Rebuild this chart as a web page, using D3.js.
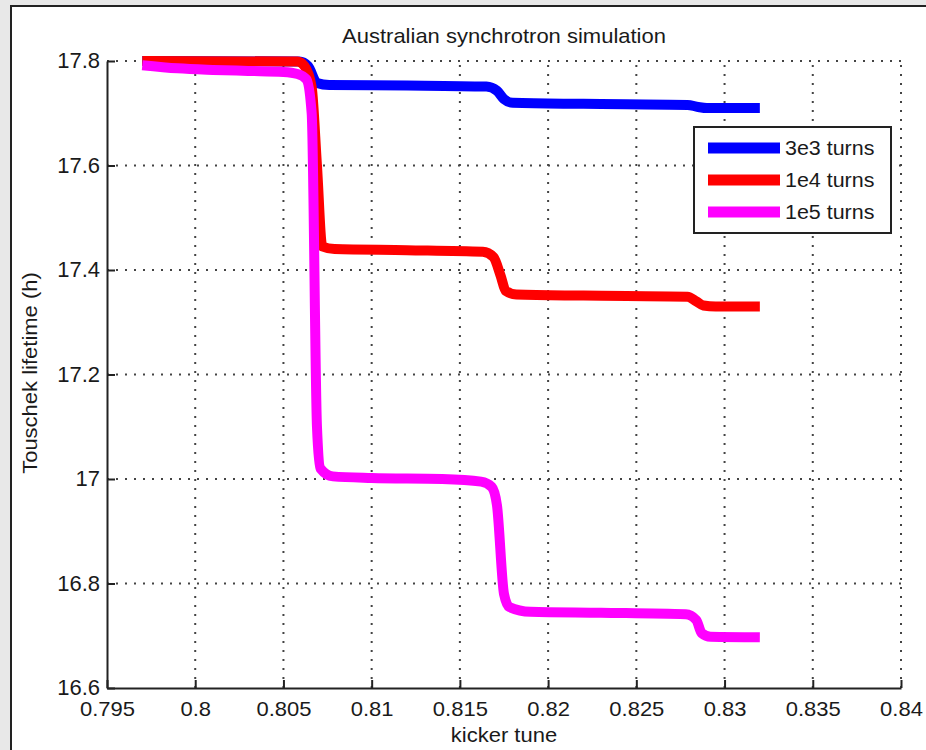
<!DOCTYPE html>
<html>
<head>
<meta charset="utf-8">
<script src="https://cdn.jsdelivr.net/npm/d3@7"></script>
<style>
  body { margin: 0; background: #e8e8e8; }
  text { font-family: "Liberation Sans", Arial, sans-serif; fill: #1a1a1a; }
</style>
</head>
<body>
<div id="chart"></div>
<script>
// values
const xTicks = [0.795, 0.8, 0.805, 0.81, 0.815, 0.82, 0.825, 0.83, 0.835, 0.84];
const yTicks = [16.6, 16.8, 17, 17.2, 17.4, 17.6, 17.8];

const tune3e3 = [0.797, 0.8059, 0.8064, 0.8069, 0.8076, 0.812, 0.8165, 0.8171, 0.8175, 0.818, 0.822, 0.8279, 0.8285, 0.829, 0.832];
const life3e3 = [17.8, 17.799, 17.79, 17.758, 17.754, 17.753, 17.751, 17.743, 17.727, 17.72, 17.718, 17.716, 17.712, 17.71, 17.71];

const tune1e4 = [0.797, 0.8058, 0.8062, 0.8066, 0.8069, 0.8072, 0.8079, 0.812, 0.8163, 0.8169, 0.8173, 0.8176, 0.8182, 0.822, 0.8279, 0.8284, 0.8288, 0.8295, 0.832];
const life1e4 = [17.8, 17.799, 17.79, 17.75, 17.6, 17.445, 17.44, 17.438, 17.435, 17.425, 17.39, 17.36, 17.353, 17.351, 17.349, 17.34, 17.332, 17.33, 17.33];

const tune1e5 = [0.797, 0.799, 0.801, 0.803, 0.805, 0.8058, 0.8063, 0.8066, 0.8069, 0.8071, 0.8078, 0.81, 0.814, 0.8162, 0.8168, 0.8171, 0.8175, 0.8178, 0.819, 0.823, 0.8278, 0.8284, 0.8287, 0.8292, 0.832];
const life1e5 = [17.792, 17.786, 17.783, 17.781, 17.779, 17.775, 17.765, 17.7, 17.1, 17.02, 17.005, 17.002, 17.0, 16.995, 16.985, 16.95, 16.78, 16.755, 16.746, 16.744, 16.741, 16.73, 16.705, 16.698, 16.697];

const seriesNames = ["3e3 turns", "1e4 turns", "1e5 turns"];
const seriesColors = ["#0000ff", "#ff0000", "#ff00ff"];

const series = [
    tune3e3.map((t, i) => [t, life3e3[i]]),
    tune1e4.map((t, i) => [t, life1e4[i]]),
    tune1e5.map((t, i) => [t, life1e5[i]])
];

const W = 926, H = 750;
const plotLeft = 107, plotRight = 901, plotTop = 61, plotBottom = 688;
const stretch = 1.1;

const svg = d3.select("#chart").append("svg")
    .attr("width", W)
    .attr("height", H);

// figure panel
svg.append("rect")
    .attr("x", 11).attr("y", 6)
    .attr("width", W).attr("height", H)
    .attr("fill", "#fff")
    .attr("stroke", "#222")
    .attr("stroke-width", 2);

const x = d3.scaleLinear().domain([0.795, 0.84]).range([plotLeft, plotRight]);
const y = d3.scaleLinear().domain([16.6, 17.8]).range([plotBottom, plotTop]);

// dotted grid
const grid = svg.append("g")
    .attr("stroke", "#444")
    .attr("stroke-width", 2)
    .attr("stroke-dasharray", "2,7");
grid.selectAll(".vg").data(xTicks.slice(1)).join("line")
    .attr("x1", d => x(d)).attr("x2", d => x(d))
    .attr("y1", plotBottom).attr("y2", plotTop);
grid.selectAll(".hg").data(yTicks.slice(1)).join("line")
    .attr("x1", plotLeft).attr("x2", plotRight)
    .attr("y1", d => y(d)).attr("y2", d => y(d));

// lines
const line = d3.line()
    .x(d => x(d[0]))
    .y(d => y(d[1]))
    .curve(d3.curveMonotoneX);

series.forEach((s, i) => {
    svg.append("path")
        .datum(s)
        .attr("d", line)
        .attr("fill", "none")
        .attr("stroke", seriesColors[i])
        .attr("stroke-width", 10)
        .attr("stroke-linejoin", "round");
});

// axes
const xAxis = d3.axisBottom(x).tickValues(xTicks).tickSizeInner(-8).tickSizeOuter(0)
    .tickFormat(d => String(+d.toFixed(3)));
const yAxis = d3.axisLeft(y).tickValues(yTicks).tickSizeInner(-8).tickSizeOuter(0)
    .tickFormat(d => String(+d.toFixed(1)));

const gx = svg.append("g").attr("transform", `translate(0,${plotBottom})`).call(xAxis);
const gy = svg.append("g").attr("transform", `translate(${plotLeft},0)`).call(yAxis);

[gx, gy].forEach(g => {
    g.select(".domain").attr("stroke", "#222").attr("stroke-width", 2);
    g.selectAll(".tick line").attr("stroke", "#222").attr("stroke-width", 2);
});
gx.selectAll(".tick text")
    .attr("y", 14)
    .attr("font-size", 20)
    .attr("transform", `scale(${stretch},1)`)
    .attr("fill", "#1a1a1a");
gy.selectAll(".tick text")
    .attr("x", -7)
    .attr("dy", "0.3em")
    .attr("font-size", 22)
    .attr("fill", "#1a1a1a");

// title and axis labels
svg.append("text")
    .attr("transform", `translate(504,43) scale(${stretch},1)`)
    .attr("text-anchor", "middle")
    .attr("font-size", 20)
    .text("Australian synchrotron simulation");

svg.append("text")
    .attr("transform", `translate(504,742) scale(${stretch},1)`)
    .attr("text-anchor", "middle")
    .attr("font-size", 20)
    .text("kicker tune");

svg.append("text")
    .attr("transform", `translate(37,373) rotate(-90) scale(${stretch},1)`)
    .attr("text-anchor", "middle")
    .attr("font-size", 20)
    .text("Touschek lifetime (h)");

// legend
const legend = svg.append("g");
legend.append("rect")
    .attr("x", 694).attr("y", 127)
    .attr("width", 197).attr("height", 106)
    .attr("fill", "#fff")
    .attr("stroke", "#222")
    .attr("stroke-width", 2);

seriesNames.forEach((name, i) => {
    const ly = 148 + i * 32;
    legend.append("line")
        .attr("x1", 708).attr("x2", 780)
        .attr("y1", ly).attr("y2", ly)
        .attr("stroke", seriesColors[i])
        .attr("stroke-width", 11);
    legend.append("text")
        .attr("transform", `translate(785,${ly + 7}) scale(${stretch},1)`)
        .attr("font-size", 19.5)
        .text(name);
});
</script>
</body>
</html>
